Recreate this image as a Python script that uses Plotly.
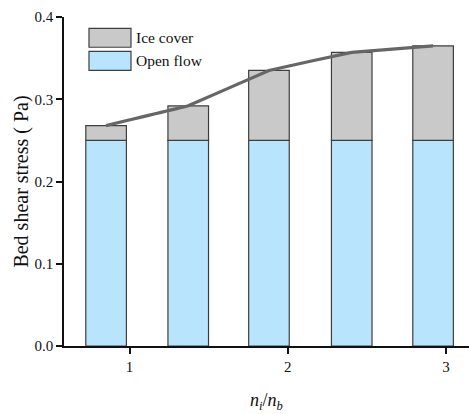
import plotly.graph_objects as go

# n_i / n_b ratios for each case
ratio = [0.852, 1.371, 1.881, 2.404, 2.918]
# bed shear stress (Pa)
open_flow = [0.250, 0.250, 0.250, 0.250, 0.250]
total_ice = [0.268, 0.292, 0.335, 0.357, 0.365]
ice_extra = [t - o for t, o in zip(total_ice, open_flow)]

x_ticks = [1, 2, 3]
y_ticks = [0.0, 0.1, 0.2, 0.3, 0.4]

SERIF = "Liberation Serif, Times New Roman, serif"
BLUE = "#b8e4fd"
GREY = "#c9c9c9"
EDGE = "#3f3f3f"
BAR_W = 0.2565

fig = go.Figure()
fig.add_trace(go.Bar(
    x=ratio, y=open_flow, width=BAR_W, name="Open flow",
    marker=dict(color=BLUE, line=dict(color=EDGE, width=1.2)),
))
fig.add_trace(go.Bar(
    x=ratio, y=ice_extra, base=open_flow, width=BAR_W, name="Ice cover",
    marker=dict(color=GREY, line=dict(color=EDGE, width=1.2)),
))
fig.add_trace(go.Scatter(
    x=ratio, y=total_ice, mode="lines",
    line=dict(color="#666666", width=3.2, shape="spline", smoothing=0.08),
    showlegend=False,
))

# legend drawn as wide swatches with labels
legend_items = [("Ice cover", GREY, 0.908, 0.9657), ("Open flow", BLUE, 0.838, 0.8958)]
for label, color, y0, y1 in legend_items:
    fig.add_shape(type="rect", xref="paper", yref="paper",
                  x0=0.0617, x1=0.1654, y0=y0, y1=y1,
                  fillcolor=color, line=dict(color=EDGE, width=1.2))
    fig.add_annotation(xref="paper", yref="paper", x=0.172, y=(y0 + y1) / 2,
                       text=label, showarrow=False, xanchor="left", yanchor="middle",
                       font=dict(family=SERIF, size=15.5, color="#111111"))

fig.update_layout(
    width=469, height=414,
    margin=dict(l=64, r=0, t=17, b=68),
    paper_bgcolor="white", plot_bgcolor="white",
    barmode="overlay",
    showlegend=False,
    font=dict(family=SERIF, size=15, color="#111111"),
    xaxis=dict(
        range=[0.586, 3.145], tickvals=x_ticks, ticktext=[str(v) for v in x_ticks],
        showgrid=False, zeroline=False, showline=True, linecolor="#111111", linewidth=1.5,
        ticks="outside", ticklen=6, tickwidth=1.5, tickcolor="#111111",
        tickfont=dict(family=SERIF, size=15),
        title=dict(text="<i>n<sub>i</sub></i>/<i>n<sub>b</sub></i>", standoff=20,
                   font=dict(family=SERIF, size=18)),
    ),
    yaxis=dict(
        range=[0, 0.4], tickvals=y_ticks, ticktext=[f"{v:.1f}" for v in y_ticks],
        showgrid=False, zeroline=False, showline=True, linecolor="#111111", linewidth=1.5,
        ticks="outside", ticklen=6, tickwidth=1.5, tickcolor="#111111",
        tickfont=dict(family=SERIF, size=15),
        title=dict(text="Bed shear stress ( Pa)", standoff=1,
                   font=dict(family=SERIF, size=20)),
    ),
)

fig.write_html("out.html")
